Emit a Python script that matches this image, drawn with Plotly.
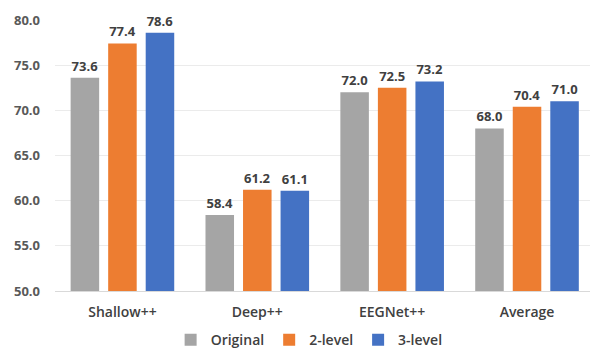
import plotly.graph_objects as go

categories = ["Shallow++", "Deep++", "EEGNet++", "Average"]
series_names = ["Original", "2-level", "3-level"]
original = [73.6, 58.4, 72.0, 68.0]
level2 = [77.4, 61.2, 72.5, 70.4]
level3 = [78.6, 61.1, 73.2, 71.0]
colors = ["#A5A5A5", "#ED7D31", "#4472C4"]
y_ticks = [50, 55, 60, 65, 70, 75, 80]

fig = go.Figure()
for name, vals, col in zip(series_names, [original, level2, level3], colors):
    fig.add_trace(go.Bar(
        x=categories, y=vals, name=name, marker=dict(color=col, line=dict(width=0)),
        text=[f"{v:.1f}" for v in vals], textposition="outside",
        textfont=dict(family="Open Sans", size=13, color="#404040", weight=700),
        cliponaxis=False,
    ))

fig.update_layout(
    width=590, height=350,
    margin=dict(l=55, r=0, t=20, b=59, autoexpand=False),
    paper_bgcolor="white", plot_bgcolor="white",
    barmode="group", bargap=0.165, bargroupgap=0.24,
    font=dict(family="Open Sans", size=13, color="#404040"),
    showlegend=True,
    legend=dict(orientation="h", x=0.475, xanchor="center", y=-0.181, yanchor="middle",
                font=dict(family="Open Sans", size=14, color="#404040", weight=600),
                itemwidth=30, tracegroupgap=0),
    xaxis=dict(range=[-0.5, 3.467], showgrid=False, showline=True, linecolor="#D9D9D9",
               linewidth=1, ticks="", ticklabelstandoff=8,
               tickfont=dict(family="Open Sans", size=14, color="#404040", weight=600)),
    yaxis=dict(range=[50, 80], tickvals=y_ticks, tickformat=".1f", showgrid=True,
               gridcolor="#EBEBEB", gridwidth=1, zeroline=False, showline=False,
               ticks="", ticklabelstandoff=14,
               tickfont=dict(family="Open Sans", size=13, color="#595959", weight=700)),
)

fig.write_html("out.html")
